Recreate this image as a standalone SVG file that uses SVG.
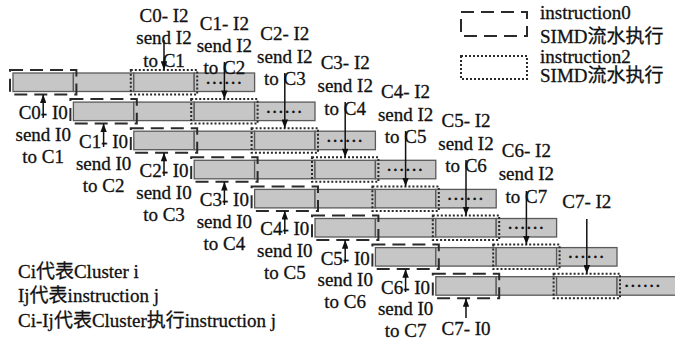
<svg xmlns="http://www.w3.org/2000/svg" width="675" height="342" viewBox="0 0 675 342">
<style>
text{font-family:"Liberation Serif","Noto Sans CJK SC",serif;font-size:19px;fill:#111;stroke:#111;stroke-width:0.3}
.c{text-anchor:middle}
.seg{fill:#c6c6c6;stroke:#5a5a5a;stroke-width:1.3}
.dash{fill:none;stroke:#2a2a2a;stroke-width:2;stroke-dasharray:13 7}
.dot{fill:none;stroke:#2a2a2a;stroke-width:2;stroke-dasharray:2 2}
.dots{font-size:19px;letter-spacing:1.5px;text-anchor:middle}
.arr{stroke:#111;stroke-width:1.5;fill:none;marker-end:url(#ah)}
</style>
<defs>
<marker id="ah" viewBox="0 0 8 6" refX="8" refY="3" markerWidth="9" markerHeight="6.5" markerUnits="userSpaceOnUse" orient="auto">
<path d="M0,0 L8,3 L0,6 z" fill="#111"/>
</marker>
<g id="rowTpl">
<rect class="seg" x="0" y="0" width="60.4" height="18.5"/>
<rect class="seg" x="60.4" y="0" width="60.4" height="18.5"/>
<rect class="seg" x="120.8" y="0" width="60.4" height="18.5"/>
<rect class="seg" x="181.2" y="0" width="60.4" height="18.5"/>
<rect class="dash" x="-3" y="-3" width="66.4" height="24.5"/>
<rect class="dot" x="117.8" y="-3" width="66.4" height="24.5"/>
</g>
</defs>
<rect width="675" height="342" fill="#fff"/>

<g id="cluster0" transform="translate(13,73)"><use href="#rowTpl"/><text class="dots" x="211.4" y="10.5">......</text></g>
<g id="cluster1" transform="translate(73.4,102.1)"><use href="#rowTpl"/><text class="dots" x="211.4" y="10.5">......</text></g>
<g id="cluster2" transform="translate(133.8,131.2)"><use href="#rowTpl"/><text class="dots" x="211.4" y="10.5">......</text></g>
<g id="cluster3" transform="translate(194.2,160.3)"><use href="#rowTpl"/><text class="dots" x="211.4" y="10.5">......</text></g>
<g id="cluster4" transform="translate(254.6,189.4)"><use href="#rowTpl"/><text class="dots" x="211.4" y="10.5">......</text></g>
<g id="cluster5" transform="translate(315,218.5)"><use href="#rowTpl"/><text class="dots" x="211.4" y="10.5">......</text></g>
<g id="cluster6" transform="translate(375.4,247.6)"><use href="#rowTpl"/><text class="dots" x="211.4" y="10.5">......</text></g>
<g id="cluster7" transform="translate(435.8,276.7)"><use href="#rowTpl"/><text class="dots" x="207.2" y="10.5">......</text></g>

<g id="label-c0-i2"><text class="c" x="164" y="22">C0- I2</text><text class="c" x="164" y="44">send I2</text><text class="c" x="164" y="67">to C1</text></g>
<g id="label-c1-i2"><text class="c" x="224.4" y="30">C1- I2</text><text class="c" x="224.4" y="52">send I2</text><text class="c" x="224.4" y="74">to C2</text></g>
<g id="label-c2-i2"><text class="c" x="284.8" y="40">C2- I2</text><text class="c" x="284.8" y="62.5">send I2</text><text class="c" x="284.8" y="85">to C3</text></g>
<g id="label-c3-i2"><text class="c" x="345.2" y="69">C3- I2</text><text class="c" x="345.2" y="92">send I2</text><text class="c" x="345.2" y="115">to C4</text></g>
<g id="label-c4-i2"><text class="c" x="405.6" y="98">C4- I2</text><text class="c" x="405.6" y="121">send I2</text><text class="c" x="405.6" y="143">to C5</text></g>
<g id="label-c5-i2"><text class="c" x="466" y="127">C5- I2</text><text class="c" x="466" y="149.5">send I2</text><text class="c" x="466" y="172">to C6</text></g>
<g id="label-c6-i2"><text class="c" x="526.4" y="157">C6- I2</text><text class="c" x="526.4" y="180">send I2</text><text class="c" x="526.4" y="203">to C7</text></g>
<g id="label-c7-i2"><text class="c" x="586.8" y="208">C7- I2</text></g>

<g id="label-c0-i0"><text class="c" x="43.2" y="119">C0- I0</text><text class="c" x="43.2" y="140.5">send I0</text><text class="c" x="43.2" y="162.5">to C1</text></g>
<g id="label-c1-i0"><text class="c" x="103.6" y="148.1">C1- I0</text><text class="c" x="103.6" y="169.6">send I0</text><text class="c" x="103.6" y="191.6">to C2</text></g>
<g id="label-c2-i0"><text class="c" x="164" y="177.2">C2- I0</text><text class="c" x="164" y="198.7">send I0</text><text class="c" x="164" y="220.7">to C3</text></g>
<g id="label-c3-i0"><text class="c" x="224.4" y="206.3">C3- I0</text><text class="c" x="224.4" y="227.8">send I0</text><text class="c" x="224.4" y="249.8">to C4</text></g>
<g id="label-c4-i0"><text class="c" x="284.8" y="235.4">C4- I0</text><text class="c" x="284.8" y="256.9">send I0</text><text class="c" x="284.8" y="278.9">to C5</text></g>
<g id="label-c5-i0"><text class="c" x="345.2" y="264.5">C5- I0</text><text class="c" x="345.2" y="286">send I0</text><text class="c" x="345.2" y="308">to C6</text></g>
<g id="label-c6-i0"><text class="c" x="405.6" y="293.6">C6- I0</text><text class="c" x="405.6" y="315.1">send I0</text><text class="c" x="405.6" y="337.1">to C7</text></g>
<g id="label-c7-i0"><text class="c" x="466" y="335">C7- I0</text></g>

<g id="connectors">
<line class="arr" x1="164" y1="40" x2="164" y2="70"/>
<line class="arr" x1="224.4" y1="62" x2="224.4" y2="99.1"/>
<line class="arr" x1="284.8" y1="73" x2="284.8" y2="128.2"/>
<line class="arr" x1="345.2" y1="102" x2="345.2" y2="157.3"/>
<line class="arr" x1="405.6" y1="131" x2="405.6" y2="186.4"/>
<line class="arr" x1="466" y1="160" x2="466" y2="215.5"/>
<line class="arr" x1="526.4" y1="191" x2="526.4" y2="244.6"/>
<line class="arr" x1="586.8" y1="219" x2="586.8" y2="273.7"/>
<line class="arr" x1="43.2" y1="118" x2="43.2" y2="94.5"/>
<line class="arr" x1="103.6" y1="147" x2="103.6" y2="123.6"/>
<line class="arr" x1="164" y1="176" x2="164" y2="152.7"/>
<line class="arr" x1="224.4" y1="205" x2="224.4" y2="181.8"/>
<line class="arr" x1="284.8" y1="234" x2="284.8" y2="210.9"/>
<line class="arr" x1="345.2" y1="263" x2="345.2" y2="240"/>
<line class="arr" x1="405.6" y1="292" x2="405.6" y2="269.1"/>
<line class="arr" x1="466" y1="318" x2="466" y2="298.2"/>
</g>

<g id="legend">
<rect class="dash" x="461" y="12" width="66" height="24"/>
<text x="540" y="19">instruction0</text>
<text x="540" y="43">SIMD流水执行</text>
<rect class="dot" x="461" y="56" width="66" height="23"/>
<text x="540" y="63">instruction2</text>
<text x="540" y="82">SIMD流水执行</text>
</g>

<g id="notes">
<text x="18" y="278">Ci代表Cluster i</text>
<text x="18" y="302">Ij代表instruction j</text>
<text x="18" y="327">Ci-Ij代表Cluster执行instruction j</text>
</g>
</svg>
